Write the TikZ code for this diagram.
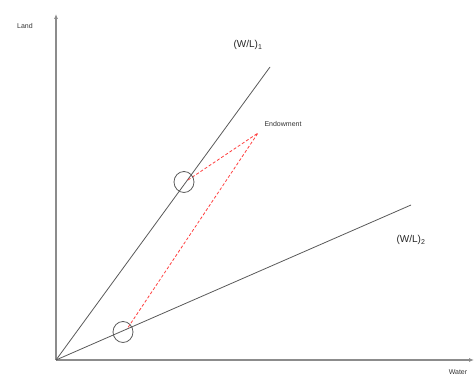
\documentclass[tikz,border=0pt]{standalone}
\usepackage{fontspec}
\setmainfont{Liberation Sans}
\usetikzlibrary{arrows.meta,shapes.geometric}
\begin{document}
\begin{tikzpicture}[x=1pt,y=-1pt,
  axis/.style={draw=black!45, line width=1.4pt, -{Latex[length=5pt,width=4pt,fill=black!80]}},
  ray/.style={draw=black!65, line width=0.8pt},
  redln/.style={draw=red!75, line width=0.8pt, densely dashed},
  ring/.style={draw=black!65, line width=0.8pt, ellipse, minimum width=20pt, minimum height=21pt, inner sep=0pt},
  lbl/.style={font=\fontsize{7}{8}\selectfont, text=black!80},
  big/.style={font=\fontsize{10}{11}\selectfont, text=black!85}]
\useasboundingbox (0,0) rectangle (474,379);
\coordinate (O) at (56,360);
\coordinate (Ytop) at (56,14);
\coordinate (Xend) at (474,360);
\coordinate (L1) at (270,67);
\coordinate (L2) at (411,205);
\coordinate (E) at (258,133);
\coordinate (P1) at (188,180);
\coordinate (P2) at (127,329);
\draw[axis] (O) -- (Ytop);
\draw[axis] (O) -- (Xend);
\draw[ray] (O) -- (L1);
\draw[ray] (O) -- (L2);
\draw[redln] (P1) -- (E) -- (P2);
\node[ring] (c1) at (184,182) {};
\node[ring] (c2) at (123,332) {};
\node[lbl] (land) at (25,26) {Land};
\node[lbl] (water) at (458,372) {Water};
\node[lbl, anchor=west] (endow) at (261,124) {Endowment};
\node[big] (wl1) at (248,45) {(W/L)\textsubscript{1}};
\node[big] (wl2) at (411,240) {(W/L)\textsubscript{2}};
\end{tikzpicture}
\end{document}
